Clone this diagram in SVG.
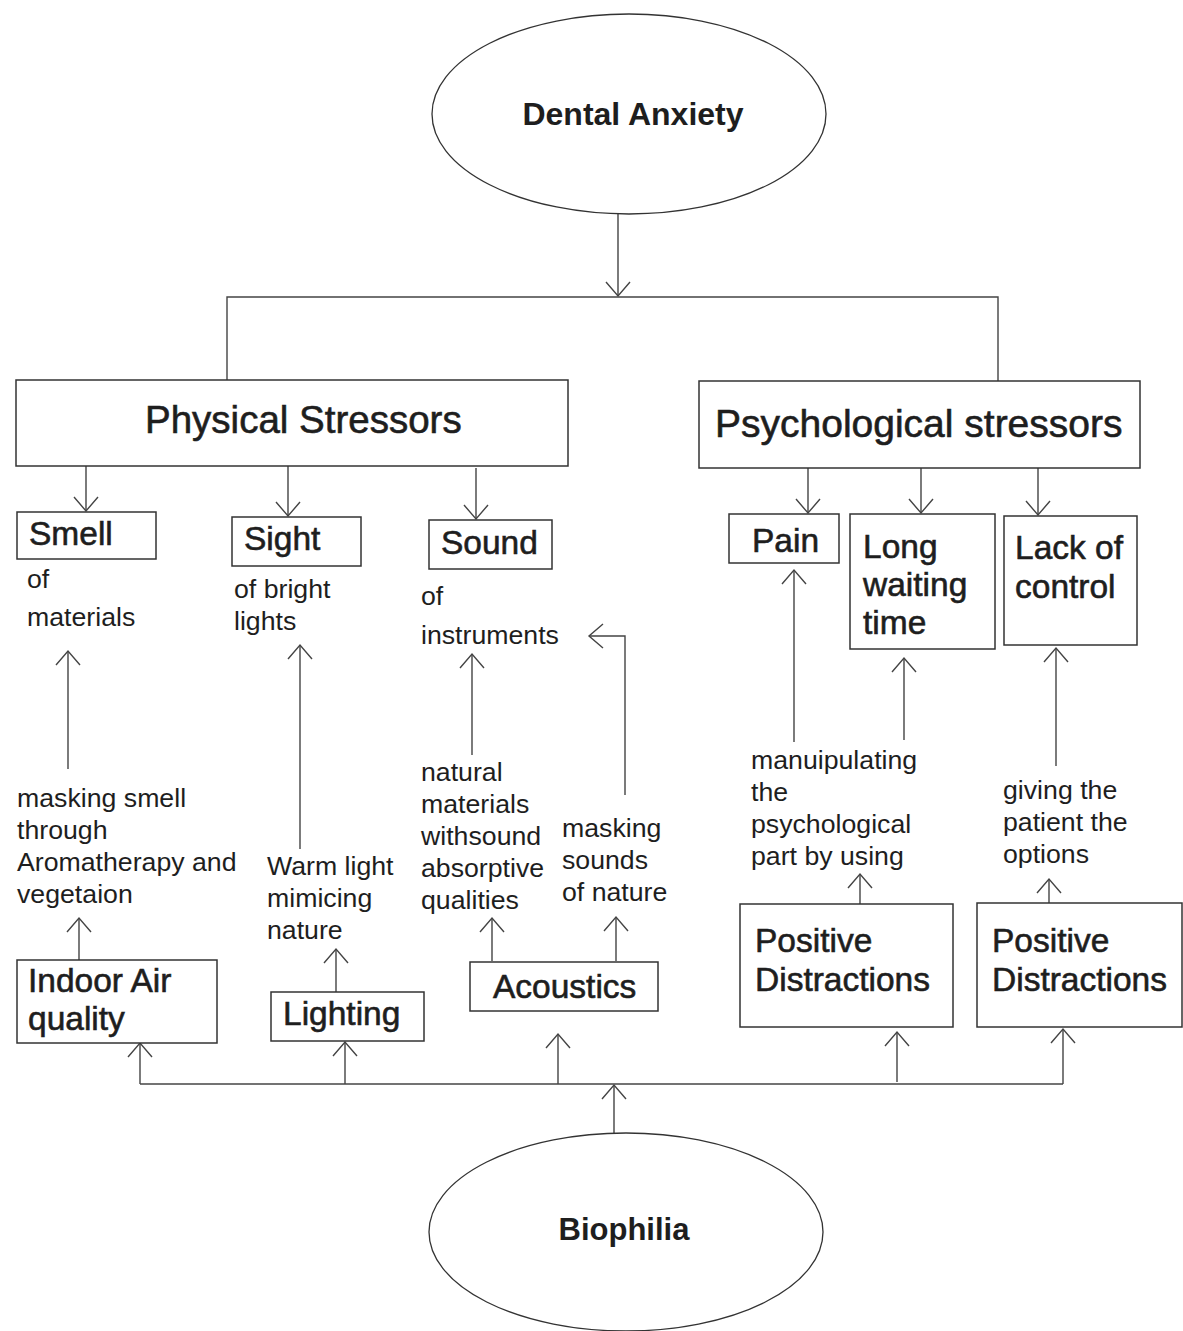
<svg xmlns="http://www.w3.org/2000/svg" width="1183" height="1331" viewBox="0 0 1183 1331">
<defs>
<marker id="ah" viewBox="-16 -14 18 28" markerWidth="18" markerHeight="28" refX="0" refY="0" orient="auto" markerUnits="userSpaceOnUse">
<path d="M-14,-12 L0,0 L-14,12" fill="none" stroke="#444" stroke-width="1.4"/>
</marker>
</defs>
<style>
text{font-family:"Liberation Sans",Arial,sans-serif;fill:#1e1e1e}
.box{fill:#fff;stroke:#333;stroke-width:1.5}
.ell{fill:#fff;stroke:#333;stroke-width:1.3}
.c{fill:none;stroke:#444;stroke-width:1.4}
.a{fill:none;stroke:#444;stroke-width:1.4;marker-end:url(#ah)}
.hd{font-size:38.5px;stroke:#1e1e1e;stroke-width:0.6}
.bx{font-size:33.5px;stroke:#1e1e1e;stroke-width:0.6}
.lb{font-size:26.7px}
.tt{font-size:31px;font-weight:bold}
</style>
<rect width="1183" height="1331" fill="#fff"/>

<g id="connectors">
<line class="a" x1="618" y1="214" x2="618" y2="296"/>
<polyline class="c" points="227,380 227,297 998,297 998,381"/>
<line class="a" x1="86" y1="466" x2="86" y2="511"/>
<line class="a" x1="288" y1="466" x2="288" y2="516"/>
<line class="a" x1="476" y1="468" x2="476" y2="519"/>
<line class="a" x1="808" y1="468" x2="808" y2="513"/>
<line class="a" x1="921" y1="468" x2="921" y2="513"/>
<line class="a" x1="1038" y1="468" x2="1038" y2="515"/>
<line class="a" x1="68" y1="769" x2="68" y2="651"/>
<line class="a" x1="300" y1="849" x2="300" y2="645"/>
<line class="a" x1="472" y1="755" x2="472" y2="654"/>
<polyline class="a" points="625,795 625,636 589,636"/>
<line class="a" x1="794" y1="742" x2="794" y2="570"/>
<line class="a" x1="904" y1="740" x2="904" y2="658"/>
<line class="a" x1="1056" y1="766" x2="1056" y2="648"/>
<line class="a" x1="79" y1="960" x2="79" y2="918"/>
<line class="a" x1="336" y1="992" x2="336" y2="949"/>
<line class="a" x1="492" y1="961" x2="492" y2="918"/>
<line class="a" x1="616" y1="961" x2="616" y2="917"/>
<line class="a" x1="860" y1="904" x2="860" y2="874"/>
<line class="a" x1="1049" y1="903" x2="1049" y2="879"/>
<polyline class="c" points="140,1084 1063,1084"/>
<line class="a" x1="140" y1="1084" x2="140" y2="1043"/>
<line class="a" x1="345" y1="1084" x2="345" y2="1042"/>
<line class="a" x1="558" y1="1084" x2="558" y2="1034"/>
<line class="a" x1="897" y1="1082" x2="897" y2="1032"/>
<line class="a" x1="1063" y1="1084" x2="1063" y2="1029"/>
<line class="a" x1="614" y1="1133" x2="614" y2="1085"/>
</g>

<g id="dental-anxiety">
<ellipse class="ell" cx="629" cy="114" rx="197" ry="100"/>
<text class="tt" x="633" y="125" text-anchor="middle" style="font-size:32px">Dental Anxiety</text>
</g>

<g id="physical-stressors">
<rect class="box" x="16" y="380" width="552" height="86"/>
<text class="hd" x="145" y="433">Physical Stressors</text>
</g>

<g id="psychological-stressors">
<rect class="box" x="699" y="381" width="441" height="87"/>
<text class="hd" x="715" y="437" style="font-size:39px">Psychological stressors</text>
</g>

<g id="smell">
<rect class="box" x="17" y="512" width="139" height="47"/>
<text class="bx" x="29" y="545">Smell</text>
</g>
<g id="sight">
<rect class="box" x="232" y="517" width="129" height="49"/>
<text class="bx" x="244" y="550">Sight</text>
</g>
<g id="sound">
<rect class="box" x="429" y="520" width="123" height="49"/>
<text class="bx" x="441" y="554">Sound</text>
</g>
<g id="pain">
<rect class="box" x="729" y="514" width="110" height="49"/>
<text class="bx" x="752" y="552">Pain</text>
</g>
<g id="long-waiting-time">
<rect class="box" x="850" y="514" width="145" height="135"/>
<text class="bx" x="863" y="558">Long</text>
<text class="bx" x="863" y="596">waiting</text>
<text class="bx" x="863" y="634">time</text>
</g>
<g id="lack-of-control">
<rect class="box" x="1004" y="516" width="133" height="129"/>
<text class="bx" x="1015" y="559">Lack of</text>
<text class="bx" x="1015" y="598">control</text>
</g>

<g id="label-smell-of">
<text class="lb" x="27" y="588">of</text>
<text class="lb" x="27" y="626">materials</text>
</g>
<g id="label-sight-of">
<text class="lb" x="234" y="598">of bright</text>
<text class="lb" x="234" y="630">lights</text>
</g>
<g id="label-sound-of">
<text class="lb" x="421" y="605">of</text>
<text class="lb" x="421" y="644">instruments</text>
</g>

<g id="label-masking-smell">
<text class="lb" x="17" y="807">masking smell</text>
<text class="lb" x="17" y="839">through</text>
<text class="lb" x="17" y="871">Aromatherapy and</text>
<text class="lb" x="17" y="903">vegetaion</text>
</g>
<g id="label-warm-light">
<text class="lb" x="267" y="875">Warm light</text>
<text class="lb" x="267" y="907">mimicing</text>
<text class="lb" x="267" y="939">nature</text>
</g>
<g id="label-natural-materials">
<text class="lb" x="421" y="781">natural</text>
<text class="lb" x="421" y="813">materials</text>
<text class="lb" x="421" y="845">withsound</text>
<text class="lb" x="421" y="877">absorptive</text>
<text class="lb" x="421" y="909">qualities</text>
</g>
<g id="label-masking-sounds">
<text class="lb" x="562" y="837">masking</text>
<text class="lb" x="562" y="869">sounds</text>
<text class="lb" x="562" y="901">of nature</text>
</g>
<g id="label-manipulating">
<text class="lb" x="751" y="769">manuipulating</text>
<text class="lb" x="751" y="801">the</text>
<text class="lb" x="751" y="833">psychological</text>
<text class="lb" x="751" y="865">part by using</text>
</g>
<g id="label-giving">
<text class="lb" x="1003" y="799">giving the</text>
<text class="lb" x="1003" y="831">patient the</text>
<text class="lb" x="1003" y="863">options</text>
</g>

<g id="indoor-air-quality">
<rect class="box" x="17" y="960" width="200" height="83"/>
<text class="bx" x="28" y="992">Indoor Air</text>
<text class="bx" x="28" y="1030">quality</text>
</g>
<g id="lighting">
<rect class="box" x="271" y="992" width="153" height="49"/>
<text class="bx" x="283" y="1025">Lighting</text>
</g>
<g id="acoustics">
<rect class="box" x="470" y="962" width="188" height="49"/>
<text class="bx" x="493" y="998">Acoustics</text>
</g>
<g id="positive-distractions-1">
<rect class="box" x="740" y="904" width="213" height="123"/>
<text class="bx" x="755" y="952">Positive</text>
<text class="bx" x="755" y="991">Distractions</text>
</g>
<g id="positive-distractions-2">
<rect class="box" x="977" y="903" width="205" height="124"/>
<text class="bx" x="992" y="952">Positive</text>
<text class="bx" x="992" y="991">Distractions</text>
</g>

<g id="biophilia">
<ellipse class="ell" cx="626" cy="1232" rx="197" ry="99"/>
<text class="tt" x="624" y="1240" text-anchor="middle">Biophilia</text>
</g>
</svg>
